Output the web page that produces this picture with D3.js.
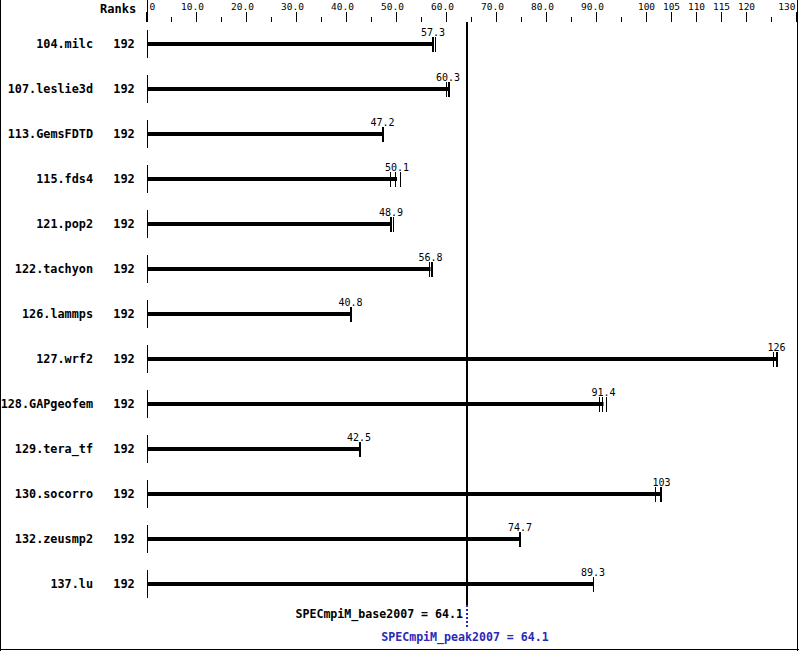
<!DOCTYPE html>
<html><head><meta charset="utf-8">
<script src="https://cdn.jsdelivr.net/npm/d3@7"></script>
<style>body{margin:0;background:#fff}svg{display:block}</style>
</head><body>
<script>
const benchmarks = ["104.milc","107.leslie3d","113.GemsFDTD","115.fds4","121.pop2","122.tachyon","126.lammps","127.wrf2","128.GAPgeofem","129.tera_tf","130.socorro","132.zeusmp2","137.lu"];
const ranks = [192,192,192,192,192,192,192,192,192,192,192,192,192];
const baseValues = [57.3,60.3,47.2,50.1,48.9,56.8,40.8,126,91.4,42.5,103,74.7,89.3];
const runValues = [
  [57.0,57.3,57.6],[59.8,60.3,60.4],[47.0,47.1,47.2],[48.6,49.6,50.6],[48.7,48.9,49.3],
  [56.4,56.8,57.0],[40.7,40.8,40.8],[125.2,125.9,126.0],[90.4,91.1,91.8],[42.5,42.5,42.6],
  [101.6,102.6,102.8],[74.6,74.7,74.7],[89.2,89.3,89.3]];
const majorTicks = [0,10,20,30,40,50,60,70,80,90,100,105,110,115,120,130];
const majorLabels = ["0","10.0","20.0","30.0","40.0","50.0","60.0","70.0","80.0","90.0","100","105","110","115","120","130"];
const minorTicks = [5,15,25,35,45,55,65,75,85,95,125];
const baseMetric = 64.1, peakMetric = 64.1;

const W = 799, H = 651;
const svg = d3.select("body").append("svg").attr("width", W).attr("height", H);
const x = d3.scaleLinear().domain([0,130]).range([146.5,796.5]);
const y = d3.scalePoint().domain(benchmarks).range([44,584]);
const mono = "'DejaVu Sans Mono', monospace";

// frame
svg.append("line").attr("x1",0.5).attr("x2",0.5).attr("y1",0).attr("y2",H).attr("stroke","#000");
svg.append("line").attr("x1",797.5).attr("x2",797.5).attr("y1",0).attr("y2",H).attr("stroke","#000");
svg.append("line").attr("x1",0).attr("x2",W).attr("y1",649.5).attr("y2",649.5).attr("stroke","#000");

// top axis
svg.append("text").attr("x",100).attr("y",13).text("Ranks")
  .attr("font-family",mono).attr("font-weight","bold").attr("font-size",12);
svg.append("line").attr("x1",147.5).attr("x2",147.5).attr("y1",0).attr("y2",22).attr("stroke","#000");
svg.selectAll(".maj").data(majorTicks).enter().append("line")
  .attr("x1",d=>Math.round(x(d))-0.5).attr("x2",d=>Math.round(x(d))-0.5)
  .attr("y1",12).attr("y2",22).attr("stroke","#000");
svg.selectAll(".min").data(minorTicks).enter().append("line")
  .attr("x1",d=>Math.round(x(d))-0.5).attr("x2",d=>Math.round(x(d))-0.5)
  .attr("y1",17).attr("y2",22).attr("stroke","#000");
svg.selectAll(".tl").data(majorTicks).enter().append("text")
  .attr("x",(d,i)=> i===0 ? x(d)+3 : (i===majorTicks.length-1 ? x(d)-1 : (d<100 ? x(d)-4 : x(d))))
  .attr("y",10)
  .attr("text-anchor",(d,i)=> i===0 ? "start" : (i===majorTicks.length-1 ? "end" : "middle"))
  .attr("font-family",mono).attr("font-size",9.5)
  .text((d,i)=>majorLabels[i]);

// rows
const rows = svg.selectAll(".row").data(benchmarks).enter().append("g")
  .attr("transform",d=>`translate(0,${y(d)})`);
rows.append("text").attr("x",93).attr("y",4).attr("text-anchor","end")
  .attr("font-family",mono).attr("font-weight","bold").attr("font-size",11.8).text(d=>d);
rows.append("text").attr("x",124).attr("y",4).attr("text-anchor","middle")
  .attr("font-family",mono).attr("font-weight","bold").attr("font-size",12).text((d,i)=>ranks[i]);
rows.append("line").attr("x1",147.5).attr("x2",147.5).attr("y1",-14).attr("y2",14).attr("stroke","#000");
rows.append("rect").attr("x",147).attr("y",-2).attr("height",4)
  .attr("width",(d,i)=>x(baseValues[i])-147).attr("fill","#000");
rows.each(function(d,i){
  d3.select(this).selectAll(".run").data(runValues[i]).enter().append("line")
    .attr("x1",v=>Math.round(x(v))+0.5).attr("x2",v=>Math.round(x(v))+0.5)
    .attr("y1",-7).attr("y2",8).attr("stroke","#000");
});
rows.append("text").attr("x",(d,i)=>x(baseValues[i])).attr("y",-8).attr("text-anchor","middle")
  .attr("font-family",mono).attr("font-size",10).text((d,i)=>baseValues[i]);

// reference line
svg.append("rect").attr("x",x(baseMetric)-1).attr("y",22).attr("width",2).attr("height",583).attr("fill","#000");
svg.append("line").attr("x1",x(peakMetric)).attr("x2",x(peakMetric)).attr("y1",605).attr("y2",628)
  .attr("stroke","#2a2ab8").attr("stroke-width",2).attr("stroke-dasharray","2,2");
svg.append("text").attr("x",x(baseMetric)-4).attr("y",618).attr("text-anchor","end")
  .attr("font-family",mono).attr("font-weight","bold").attr("font-size",11.6)
  .text("SPECmpiM_base2007 = " + baseMetric);
svg.append("text").attr("x",x(peakMetric)-2).attr("y",641).attr("text-anchor","middle")
  .attr("font-family",mono).attr("font-weight","bold").attr("font-size",11.6).attr("fill","#2a2ab8")
  .text("SPECmpiM_peak2007 = " + peakMetric);
</script>
</body></html>
